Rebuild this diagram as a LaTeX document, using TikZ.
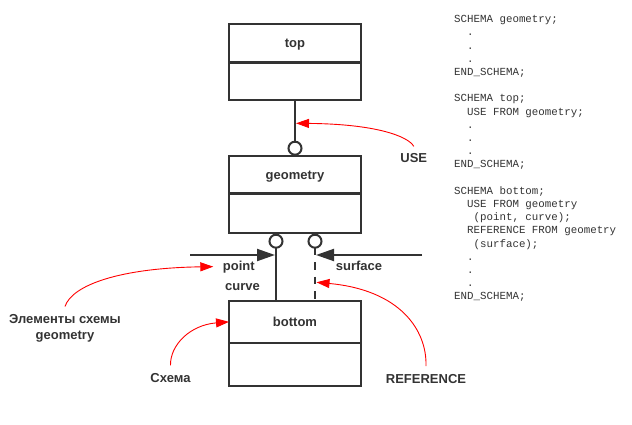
\documentclass[tikz,border=0pt]{standalone}
\usepackage{fontspec}
\setmainfont{Liberation Sans}
\newfontfamily\codefont{Liberation Mono}
\usetikzlibrary{positioning, arrows.meta}

\definecolor{ink}{HTML}{333333}

\begin{document}
\begin{tikzpicture}[x=1pt, y=-1pt]

% Define styles
\tikzstyle{schemahead}=[draw=ink, line width=2.4pt, minimum width=132pt, outer sep=0pt, inner sep=0pt, font=\fontsize{13}{15}\selectfont\bfseries, text=ink, text height=9.4pt, text depth=0pt]
\tikzstyle{schemabody}=[draw=ink, line width=2.4pt, minimum width=132pt, outer sep=0pt, inner sep=0pt]
\tikzstyle{port}=[circle, draw=ink, line width=2pt, fill=white, minimum size=13pt, inner sep=0pt, outer sep=0pt]
\tikzstyle{link}=[draw=ink, line width=2pt]
\tikzstyle{import}=[link, -{Triangle[length=18pt, width=12pt]}, shorten >=1pt]
\tikzstyle{note}=[red, line width=0.9pt, -{Triangle[length=13pt, width=9pt]}]
\tikzstyle{tag}=[font=\fontsize{13}{15.3}\selectfont\bfseries, text=ink, inner sep=0pt]
\tikzstyle{codeline}=[font=\codefont\fontsize{10.8}{13.2}\selectfont, text=ink, inner sep=0pt, anchor=base west]

% Parameters
\def\codex{454}
\def\codey{22.6}
\def\codeskip{13.2}
\def\codechar{6.48}

\fill[white] (0,0) rectangle (632,424);
\useasboundingbox (0,0) rectangle (632,424);

% Schema boxes
\node[schemahead, minimum height=38.5pt] (tophead) at (295,43.25) {top};
\node[schemabody, minimum height=37.5pt, below=0pt of tophead] (topbody) {};

\node[schemahead, minimum height=37.6pt] (geomhead) at (295,174.5) {geometry};
\node[schemabody, minimum height=39.4pt, below=0pt of geomhead] (geombody) {};

\node[schemahead, minimum height=41.7pt] (bottomhead) at (295,321.85) {bottom};
\node[schemabody, minimum height=43pt, below=0pt of bottomhead] (bottombody) {};

% Interface circles
\node[port, above=1pt of geomhead] (useport) {};
\node[port, below=2pt of geombody.south, xshift=-19pt] (pointport) {};
\node[port, below=2pt of geombody.south, xshift=20pt] (surfport) {};

% USE and REFERENCE links
\draw[link] (topbody.south) -- (useport.north);
\draw[link] (pointport.south) -- (pointport.south |- bottomhead.north);
\draw[link, dash pattern=on 7.5pt off 7pt] (surfport.south) -- (surfport.south |- bottomhead.north);

% Imported items
\coordinate (pointfrom) at (190,255);
\coordinate (surffrom) at (422,255);
\draw[import] (pointfrom) -- (pointfrom -| pointport.south);
\draw[import] (surffrom) -- (surffrom -| surfport.south);

\node[tag, anchor=base west] (pointlbl) at (222.7,270) {point};
\node[tag, anchor=base west] (curvelbl) at (225,290.7) {curve};
\node[tag, anchor=base west] (surflbl) at (335.7,270) {surface};

% Notes
\node[tag, anchor=base] (uselbl) at (413.8,162.7) {USE};
\node[tag, anchor=north, align=center] (elemlbl) at (65,314.5) {Элементы схемы\\geometry};
\node[tag, anchor=base] (schemalbl) at (170.5,382.7) {Схема};
\node[tag, anchor=base] (reflbl) at (426,383.3) {REFERENCE};

\coordinate (usetail) at ([yshift=7pt]uselbl.north);
\coordinate (elemtail) at ([yshift=8pt]elemlbl.north);
\coordinate (schematail) at ([yshift=8pt]schemalbl.north);
\coordinate (reftail) at ([yshift=8pt]reflbl.north);
\coordinate (usehit) at (296,123.3);
\coordinate (elemhit) at ([xshift=-9.4pt]pointlbl.west);
\coordinate (refhit) at (316.5,282.3);

\draw[note] (usetail) .. controls (408,136) and (375,124) .. (usehit);
\draw[note] (elemtail) .. controls (72,285) and (120,268) .. (elemhit);
\draw[note] (schematail) .. controls (170,345) and (190,325) .. (bottomhead.west);
\draw[note] (reftail) .. controls (427,330) and (400,290) .. (refhit);

% Schema text
\foreach \ind/\txt [count=\i] in {0/SCHEMA geometry;, 2/., 2/., 2/., 0/END\_SCHEMA;, 0/,
  0/SCHEMA top;, 2/USE FROM geometry;, 2/., 2/., 2/., 0/END\_SCHEMA;, 0/,
  0/SCHEMA bottom;, 2/USE FROM geometry, 3/{(point, curve);}, 2/REFERENCE FROM geometry,
  3/{(surface);}, 2/., 2/., 2/., 0/END\_SCHEMA;} {
  \node[codeline] (code\i) at ({\codex+\ind*\codechar}, {\codey+\codeskip*(\i-1)}) {\txt};
}

\end{tikzpicture}
\end{document}
